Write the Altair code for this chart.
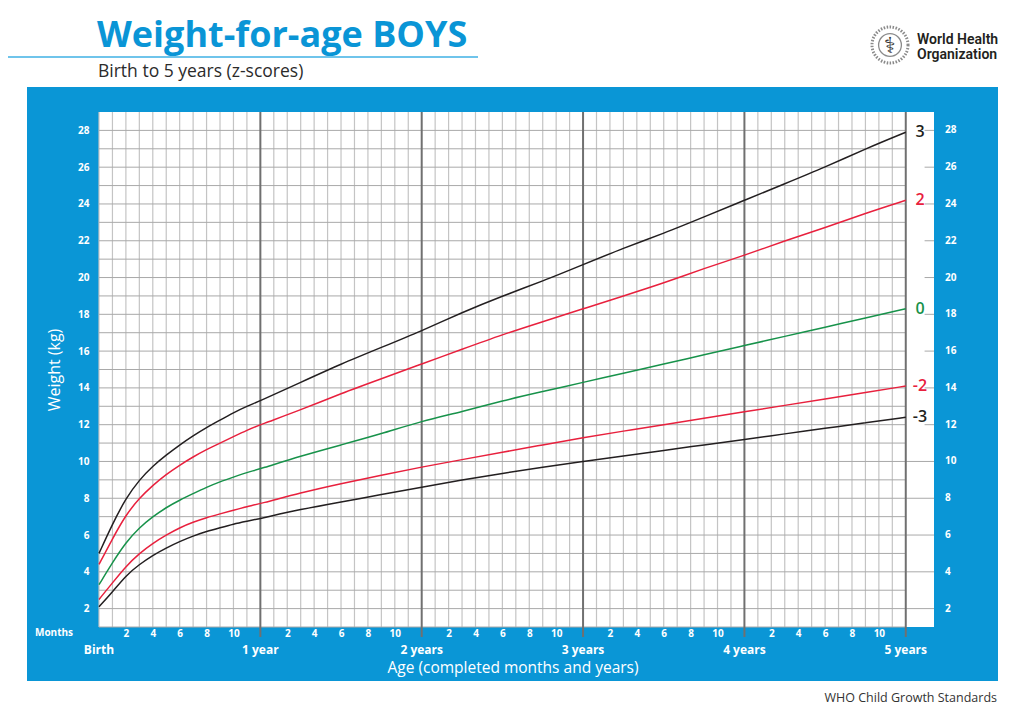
import altair as alt
import pandas as pd

# WHO weight-for-age, boys, birth to 5 years (kg at each age in months)
months = [0, 1, 2, 3, 4, 5, 6, 7, 8, 9, 10, 11, 12,
          15, 18, 21, 24, 27, 30, 33, 36, 39, 42, 45, 48, 51, 54, 57, 60]
sd3 = [5.0, 6.6, 8.0, 9.0, 9.75, 10.35, 10.9, 11.4, 11.85, 12.25, 12.65, 13.0, 13.3,
       14.3, 15.3, 16.2, 17.1, 18.1, 19.0, 19.8, 20.7, 21.6, 22.4, 23.3, 24.2, 25.1, 26.0, 27.0, 27.9]
sd2 = [4.4, 5.8, 7.1, 8.0, 8.7, 9.3, 9.8, 10.25, 10.65, 11.0, 11.35, 11.7, 12.0,
       12.8, 13.7, 14.5, 15.3, 16.1, 16.9, 17.6, 18.3, 19.0, 19.7, 20.5, 21.2, 22.0, 22.7, 23.5, 24.2]
sd0 = [3.3, 4.5, 5.6, 6.4, 7.0, 7.5, 7.9, 8.25, 8.6, 8.9, 9.15, 9.4, 9.6,
       10.3, 10.9, 11.5, 12.2, 12.7, 13.3, 13.8, 14.3, 14.8, 15.3, 15.8, 16.3, 16.8, 17.3, 17.8, 18.3]
sd_neg2 = [2.5, 3.4, 4.3, 5.0, 5.55, 6.0, 6.4, 6.7, 6.95, 7.15, 7.35, 7.55, 7.7,
           8.3, 8.8, 9.25, 9.7, 10.1, 10.5, 10.9, 11.3, 11.65, 12.0, 12.35, 12.7, 13.05, 13.4, 13.75, 14.1]
sd_neg3 = [2.1, 2.9, 3.8, 4.4, 4.9, 5.3, 5.65, 5.95, 6.2, 6.4, 6.6, 6.75, 6.9,
           7.4, 7.8, 8.2, 8.6, 9.0, 9.35, 9.7, 10.0, 10.3, 10.6, 10.9, 11.2, 11.5, 11.8, 12.1, 12.4]

curve_names = ["3", "2", "0", "-2", "-3"]
curve_colors = ["#231f20", "#e8203d", "#17924a", "#e8203d", "#231f20"]

kg_ticks = list(range(2, 29, 2))
kg_grid = list(range(1, 29))
month_ticks = [m for m in range(2, 60, 2) if m % 12]
month_grid = [m for m in range(0, 60) if m % 12 or m == 0]
year_pos = [0, 12, 24, 36, 48, 60]
year_labels = ["Birth", "1 year", "2 years", "3 years", "4 years", "5 years"]

W, H = 835, 515
BLUE = "#0a96d6"
FONT = "Open Sans"
x_max = 62.1

curves = pd.concat(
    [pd.DataFrame({"month": months, "kg": v, "z": n})
     for n, v in zip(curve_names, [sd3, sd2, sd0, sd_neg2, sd_neg3])]
)
ends = curves[curves["month"] == months[-1]]

x_scale = alt.Scale(domain=[0, x_max], nice=False, zero=False)
y_scale = alt.Scale(domain=[1, 29], nice=False, zero=False)
x_axis = alt.Axis(values=month_ticks, labelExpr="datum.value % 12", title=None,
                  grid=False, ticks=False, domain=False, labelColor="white",
                  labelFont=FONT, labelFontWeight="bold", labelFontSize=10,
                  labelPadding=1, labelFlush=False, labelOverlap=False, zindex=1)
y_axis = alt.Axis(values=kg_ticks, title=None, grid=False, ticks=False, domain=False,
                  labelColor="white", labelFont=FONT, labelFontWeight="bold",
                  labelFontSize=10, labelPadding=10, labelOverlap=False, zindex=1)
z_color = alt.Color("z:N", scale=alt.Scale(domain=curve_names, range=curve_colors), legend=None)


def X(field):
    return alt.X(field, scale=x_scale, axis=x_axis)


def Y(field):
    return alt.Y(field, scale=y_scale, axis=y_axis)


def note(text, x, y, size, color, weight="normal", align="left", baseline="middle", angle=0, font=FONT):
    return alt.Chart(pd.DataFrame({"t": [text]})).mark_text(
        align=align, baseline=baseline, font=font, fontSize=size, fontWeight=weight,
        color=color, angle=angle
    ).encode(x=alt.value(x), y=alt.value(y), text="t:N")


one = pd.DataFrame({"a": [0]})

frame = alt.Chart(one).mark_rect(color=BLUE).encode(
    x=alt.value(-72), x2=alt.value(899), y=alt.value(-25), y2=alt.value(569))
paper = alt.Chart(one).mark_rect(color="white").encode(
    x=alt.value(0), x2=alt.value(W), y=alt.value(0), y2=alt.value(H))

v_grid = alt.Chart(pd.DataFrame({"m": month_grid})).mark_rule(
    color="#c4c4c4", strokeWidth=1.2).encode(x=X("m:Q"))
h_grid = alt.Chart(pd.DataFrame({"kg": kg_grid, "m0": 0, "m1": months[-1]})).mark_rule(
    color="#a9a9a9", strokeWidth=1).encode(x=X("m0:Q"), x2="m1:Q", y=Y("kg:Q"))
low_even = [k for k in kg_ticks if k <= 10]
high_even = [k for k in kg_ticks if k > 10]
h_ext = alt.Chart(pd.DataFrame({"kg": low_even, "m0": months[-1], "m1": x_max})).mark_rule(
    color="#a9a9a9", strokeWidth=1).encode(x=X("m0:Q"), x2="m1:Q", y=Y("kg:Q"))
h_dash = alt.Chart(pd.DataFrame({"kg": high_even, "m0": 61.4, "m1": x_max})).mark_rule(
    color="#a9a9a9", strokeWidth=1).encode(x=X("m0:Q"), x2="m1:Q", y=Y("kg:Q"))
y_grid = alt.Chart(pd.DataFrame({"m": year_pos[1:]})).mark_rule(
    color="#707070", strokeWidth=2).encode(x=X("m:Q"), y=alt.value(0), y2=alt.value(H + 10))

lines = alt.Chart(curves).mark_line(strokeWidth=1.5, interpolate="basis").encode(
    x=X("month:Q"), y=Y("kg:Q"), color=z_color, detail="z:N")

z_labels = alt.Chart(ends).mark_text(
    align="center", baseline="middle", font=FONT, fontSize=16, fontWeight=600
).encode(x=alt.value(821), y=Y("kg:Q"), text="z:N", color=z_color)

right_labels = alt.Chart(pd.DataFrame({"kg": kg_ticks})).mark_text(
    align="left", baseline="middle", font=FONT, fontSize=10, fontWeight="bold", color="white"
).encode(x=alt.value(846), y=Y("kg:Q"), text="kg:Q")

year_text = alt.Chart(pd.DataFrame({"m": year_pos, "t": year_labels})).mark_text(
    align="center", baseline="middle", font=FONT, fontSize=12, fontWeight="bold", color="white"
).encode(x=X("m:Q"), y=alt.value(538), text="t:N")

title_rule = alt.Chart(one).mark_rule(color="#3fb0e4", strokeWidth=1.5).encode(
    x=alt.value(-99), x2=alt.value(379), y=alt.value(-55))

emblem_ring = alt.Chart(one).mark_point(
    shape="circle", size=1300, filled=False, stroke="#5a5a5a", strokeWidth=3, strokeDash=[1.5, 1.5]
).encode(x=alt.value(791), y=alt.value(-67))
emblem_globe = alt.Chart(one).mark_point(
    shape="circle", size=520, filled=False, stroke="#5a5a5a", strokeWidth=1.3
).encode(x=alt.value(791), y=alt.value(-67))

chart = alt.layer(
    frame,
    paper,
    v_grid,
    h_grid,
    h_ext,
    h_dash,
    y_grid,
    lines,
    z_labels,
    right_labels,
    year_text,
    title_rule,
    emblem_ring,
    emblem_globe,
    note("\u2695", 791, -66, 22, "#333333", font="DejaVu Sans", align="center"),
    note("World Health", 818, -72, 14, "#231f20", weight=600, font="Roboto"),
    note("Organization", 818, -57, 14, "#231f20", weight=600, font="Roboto"),
    note("Weight-for-age BOYS", -2, -65.5, 36, "#0a95d6", weight="bold", baseline="alphabetic"),
    note("Birth to 5 years (z-scores)", -1, -35, 17.5, "#2b2b2b", baseline="alphabetic"),
    note("Weight (kg)", -44, 258, 16, "white", align="center", angle=270),
    note("Months", -64, 521, 10, "white", weight="bold"),
    note("Age (completed months and years)", 414, 556, 15.5, "white", align="center"),
    note("WHO Child Growth Standards", 898, 586, 12.5, "#333333", align="right"),
).properties(
    width=W,
    height=H,
    autosize=alt.AutoSizeParams(type="none"),
    padding={"left": 91, "top": 104, "right": 82, "bottom": 80},
).configure_view(stroke=None)

chart.save("out.html", embed_options={"renderer": "svg", "actions": False})
